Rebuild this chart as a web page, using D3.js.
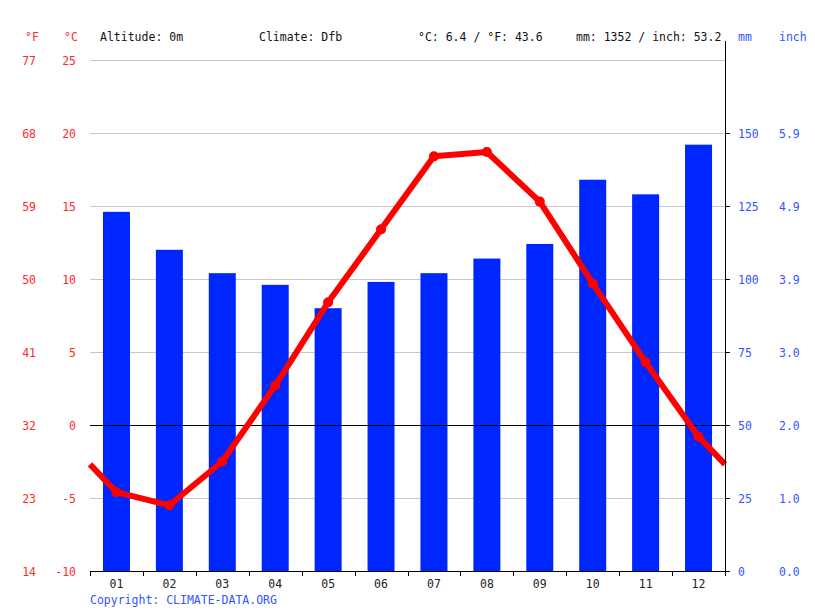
<!DOCTYPE html>
<html><head><meta charset="utf-8">
<script src="https://cdn.jsdelivr.net/npm/d3@7/dist/d3.min.js"></script>
<style>body{margin:0;background:#fff}svg{display:block}text{font-family:"DejaVu Sans Mono",monospace;font-size:11.5px}</style>
</head><body>
<svg id="c" width="815" height="611"></svg>
<script>
const months = ["01","02","03","04","05","06","07","08","09","10","11","12"];
const precipMm = [123, 110, 102, 98, 90, 99, 102, 107, 112, 134, 129, 146];
const tempC = [-4.6, -5.5, -2.5, 2.7, 8.4, 13.4, 18.4, 18.7, 15.3, 9.7, 4.3, -0.8];
const tempTicksC = [-10, -5, 0, 5, 10, 15, 20, 25];
const tempTicksF = ["14", "23", "32", "41", "50", "59", "68", "77"];
const mmTicks = [0, 25, 50, 75, 100, 125, 150];
const inchTicks = ["0.0", "1.0", "2.0", "3.0", "3.9", "4.9", "5.9"];
const header = {alt: "Altitude: 0m", climate: "Climate: Dfb", temp: "°C: 6.4 / °F: 43.6", precip: "mm: 1352 / inch: 53.2"};

const svg = d3.select("#c");
const L = 90, R = 725, T = 60, B = 571;
const x = d3.scaleBand().domain(months).range([L, R]);
const yT = d3.scaleLinear().domain([-10, 25]).range([B, T]);
const yP = d3.scaleLinear().domain([0, 175]).range([B, T]);
const red = "#ff0000", blue = "#0026ff", lblRed = "#ff2a2a", lblBlue = "#3355ff";

// gridlines
svg.append("g").selectAll("line").data(tempTicksC.filter(d => d !== -10 && d !== 0)).join("line")
  .attr("x1", L).attr("x2", R).attr("y1", d => yT(d)).attr("y2", d => yT(d))
  .attr("stroke", "#c8c8c8").attr("stroke-width", 1).attr("shape-rendering", "crispEdges");

// bars
svg.append("g").selectAll("rect").data(precipMm).join("rect")
  .attr("x", (d, i) => x(months[i]) + x.bandwidth() / 2 - 13.5)
  .attr("width", 27)
  .attr("y", d => yP(d)).attr("height", d => B - yP(d))
  .attr("fill", blue);

// zero line
svg.append("line").attr("x1", L).attr("x2", R).attr("y1", yT(0)).attr("y2", yT(0))
  .attr("stroke", "#000").attr("shape-rendering", "crispEdges");

// temperature line with wrap-around ends
const cx = i => x(months[i]) + x.bandwidth() / 2;
const edge = (tempC[0] + tempC[11]) / 2;
const pts = [[L, yT(edge)]].concat(tempC.map((t, i) => [cx(i), yT(t)])).concat([[R, yT(edge)]]);
svg.append("path").attr("d", d3.line()(pts)).attr("fill", "none")
  .attr("stroke", red).attr("stroke-width", 6).attr("stroke-linejoin", "round");
svg.append("g").selectAll("circle").data(tempC).join("circle")
  .attr("cx", (d, i) => cx(i)).attr("cy", d => yT(d)).attr("r", 5).attr("fill", red);

// bottom axis
const xAxis = d3.axisBottom(x).tickSize(0).tickPadding(9);
const gx = svg.append("g").attr("transform", `translate(0,${B})`).call(xAxis);
gx.select(".domain").remove();
gx.selectAll("text").attr("fill", "#222").style("font-size", "11.5px").style("font-family", "DejaVu Sans Mono");
svg.append("line").attr("x1", L).attr("x2", R + 3).attr("y1", B + 0.5).attr("y2", B + 0.5).attr("stroke", "#000");
svg.append("g").selectAll("line").data(d3.range(13)).join("line")
  .attr("x1", i => Math.round(L + i * x.step()) + 0.5).attr("x2", i => Math.round(L + i * x.step()) + 0.5)
  .attr("y1", B).attr("y2", B + 5).attr("stroke", "#000");

// right axis line and ticks
svg.append("line").attr("x1", R + 0.5).attr("x2", R + 0.5).attr("y1", 41).attr("y2", B + 1).attr("stroke", "#000");
svg.append("g").selectAll("line").data(mmTicks).join("line")
  .attr("x1", R).attr("x2", R + 5).attr("y1", d => Math.round(yP(d)) + 0.5).attr("y2", d => Math.round(yP(d)) + 0.5)
  .attr("stroke", "#000");

// left labels
svg.append("g").selectAll("text").data(tempTicksC).join("text")
  .attr("x", 76).attr("y", d => yT(d) + 5).attr("text-anchor", "end").attr("fill", lblRed).text(d => d);
svg.append("g").selectAll("text").data(tempTicksF).join("text")
  .attr("x", 36).attr("y", (d, i) => yT(tempTicksC[i]) + 5).attr("text-anchor", "end").attr("fill", lblRed).text(d => d);

// right labels
svg.append("g").selectAll("text").data(mmTicks).join("text")
  .attr("x", 738).attr("y", d => yP(d) + 5).attr("fill", lblBlue).text(d => d);
svg.append("g").selectAll("text").data(inchTicks).join("text")
  .attr("x", 779).attr("y", (d, i) => yP(mmTicks[i]) + 5).attr("fill", lblBlue).text(d => d);

// header
svg.append("text").attr("x", 25).attr("y", 41).attr("fill", lblRed).text("°F");
svg.append("text").attr("x", 64).attr("y", 41).attr("fill", lblRed).text("°C");
svg.append("text").attr("x", 100).attr("y", 41).attr("fill", "#111").text(header.alt);
svg.append("text").attr("x", 259).attr("y", 41).attr("fill", "#111").text(header.climate);
svg.append("text").attr("x", 418).attr("y", 41).attr("fill", "#111").text(header.temp);
svg.append("text").attr("x", 576).attr("y", 41).attr("fill", "#111").text(header.precip);
svg.append("text").attr("x", 738).attr("y", 41).attr("fill", lblBlue).text("mm");
svg.append("text").attr("x", 779).attr("y", 41).attr("fill", lblBlue).text("inch");

svg.append("text").attr("x", 90).attr("y", 604).attr("fill", lblBlue).text("Copyright: CLIMATE-DATA.ORG");
</script>
</body></html>
